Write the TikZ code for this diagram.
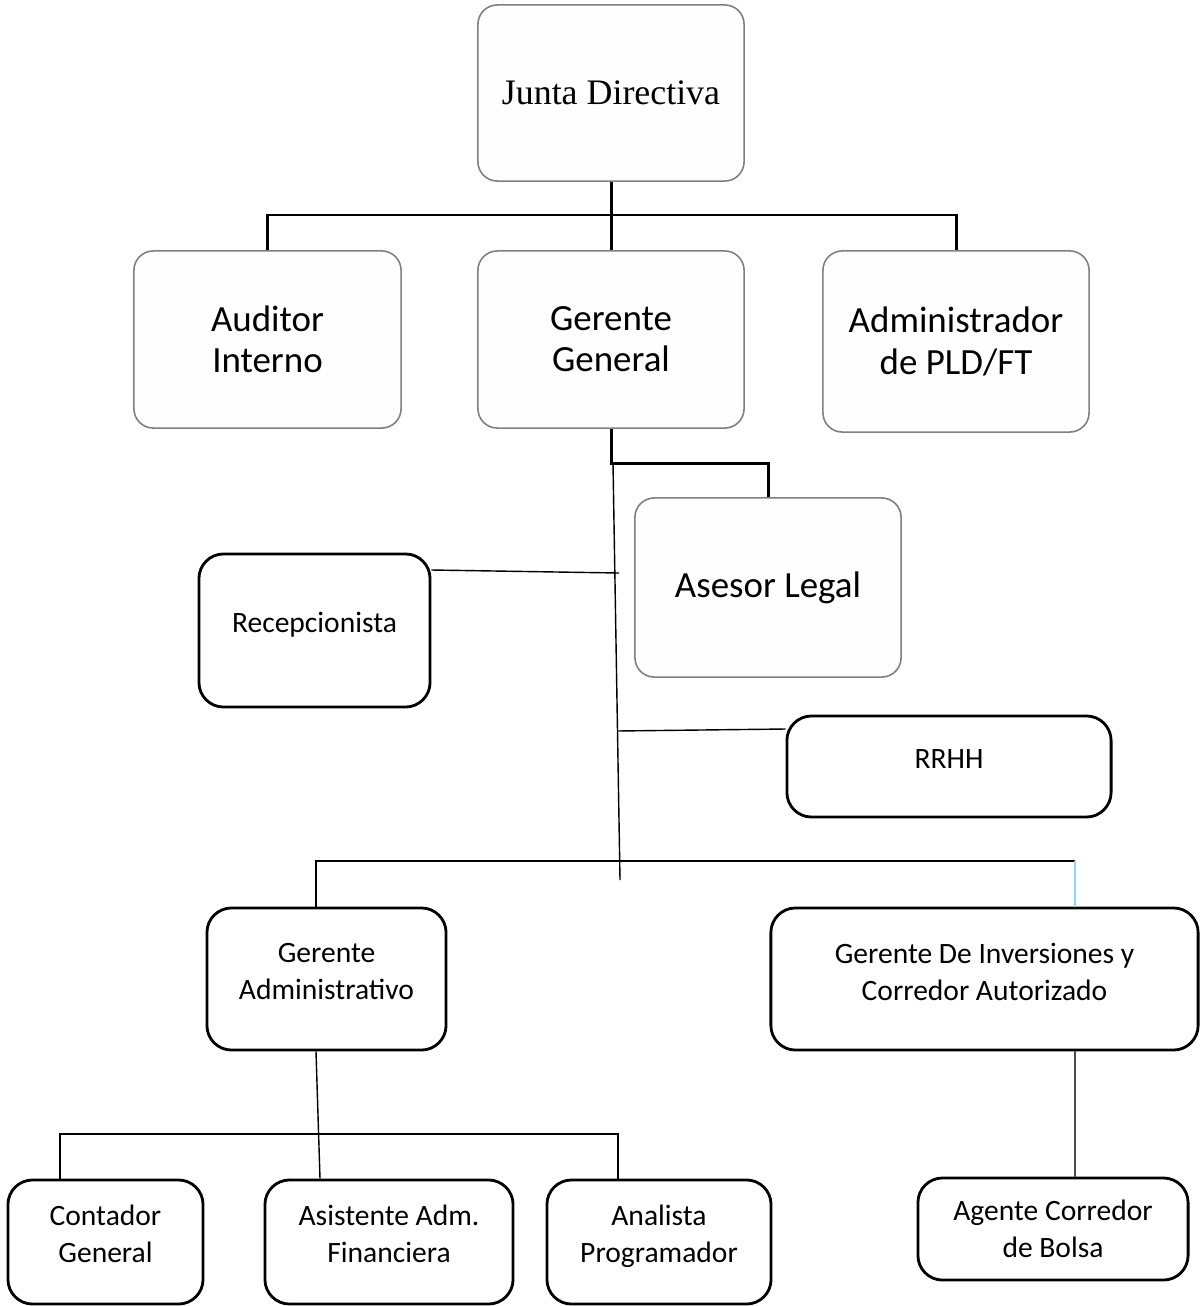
\documentclass[tikz,border=0pt]{standalone}
\usepackage{fontspec}
\setmainfont{Carlito}
\newfontfamily\timesfont{Liberation Serif}
\usetikzlibrary{
    calc,
    positioning
}
\tikzset{orgbox/.style={draw=black!50, line width=0.45pt, fill=black!0.5, rounded corners=5.5pt, inner sep=0pt, align=center, font=\fontsize{10.5}{11.6}\selectfont}}
\tikzset{staffbox/.style={draw=black, line width=0.8pt, fill=white, rounded corners=7pt, inner sep=0pt, align=center, font=\fontsize{8.4}{10.5}\selectfont}}
\tikzset{heavyline/.style={line width=0.85pt, draw=black}}
\tikzset{thinline/.style={line width=0.4pt, draw=black}}

\begin{document}
\begin{tikzpicture}[x=0.01cm, y=-0.01cm]
    \useasboundingbox (0,0) rectangle (1199,1306);
    % upper level
    \node[orgbox, minimum width=2.66cm, minimum height=1.76cm, font=\timesfont\fontsize{10.2}{12}\selectfont] (junta) at (611,93) {Junta Directiva};
    \node[orgbox, minimum width=2.67cm, minimum height=1.77cm] (auditor) at (267.5,339.5) {Auditor\\Interno};
    \node[orgbox, minimum width=2.66cm, minimum height=1.77cm] (gerente) at (611,339.5) {Gerente\\General};
    \node[orgbox, minimum width=2.66cm, minimum height=1.81cm, font=\fontsize{10.5}{12}\selectfont] (admin) at (956,341.5) {Administrador\\de PLD/FT};
    \node[orgbox, minimum width=2.66cm, minimum height=1.79cm] (asesor) at (768,587.5) {Asesor Legal};
    % staff
    \node[staffbox, minimum width=2.31cm, minimum height=1.53cm] (recep) at (314.5,630.5) {Recepcionista\\[-0.2cm]};
    \node[staffbox, minimum width=3.24cm, minimum height=1.01cm] (rrhh) at (949,766.5) {RRHH\\[-0.22cm]};
    \node[staffbox, minimum width=2.39cm, minimum height=1.42cm] (gadmin) at (326.5,979) {Gerente\\Administrativo\\[-0.22cm]};
    \node[staffbox, minimum width=4.27cm, minimum height=1.42cm] (ginv) at (984.5,979) {Gerente De Inversiones y\\Corredor Autorizado\\[-0.22cm]};
    \node[staffbox, minimum width=1.95cm, minimum height=1.24cm] (contador) at (105.5,1242) {Contador\\General\\[-0.2cm]};
    \node[staffbox, minimum width=2.48cm, minimum height=1.24cm] (asist) at (389,1242) {Asistente Adm.\\Financiera\\[-0.2cm]};
    \node[staffbox, minimum width=2.24cm, minimum height=1.24cm] (analista) at (659,1242) {Analista\\Programador\\[-0.2cm]};
    \node[staffbox, minimum width=2.70cm, minimum height=1.02cm] (agente) at (1053,1229) {Agente Corredor\\de Bolsa};

    % junction points
    \coordinate (busa) at (611,215);
    \coordinate (busb) at (611,463);
    \coordinate (trunk) at (613,463);
    \coordinate (trunkend) at (620,880);
    \coordinate (rj) at (619,573);
    \coordinate (hj) at (617,731);
    \coordinate (la) at (316,861);
    \coordinate (ra) at (1075,861);
    \coordinate (lb) at (60,1134);
    \coordinate (rb) at (618,1134);

    \draw[heavyline] (junta.south) -- (busa);
    \draw[heavyline] (auditor.north) |- (busa) -| (admin.north);
    \draw[heavyline] (busa) -- (gerente.north);
    \draw[heavyline] (gerente.south) -- (busb) -| (asesor.north);

    \draw[thinline] (trunk) -- (trunkend);
    \draw[thinline] (recep.east |- 0,570) -- (rj);
    \draw[thinline] (hj) -- (rrhh.west |- 0,729);
    \draw[thinline] (gadmin.north -| la) -- (la) -- (ra);
    \draw[line width=0.45pt, draw=blue!35!cyan!45] (ra) -- (ginv.north -| ra);
    \draw[thinline] (gadmin.south -| la) -- (asist.north -| 320,0);
    \draw[thinline] (contador.north -| lb) -- (lb) -- (rb) -- (analista.north -| rb);
    \draw[line width=0.5pt, draw=black!70] (ginv.south -| ra) -- (agente.north -| ra);
\end{tikzpicture}
\end{document}
